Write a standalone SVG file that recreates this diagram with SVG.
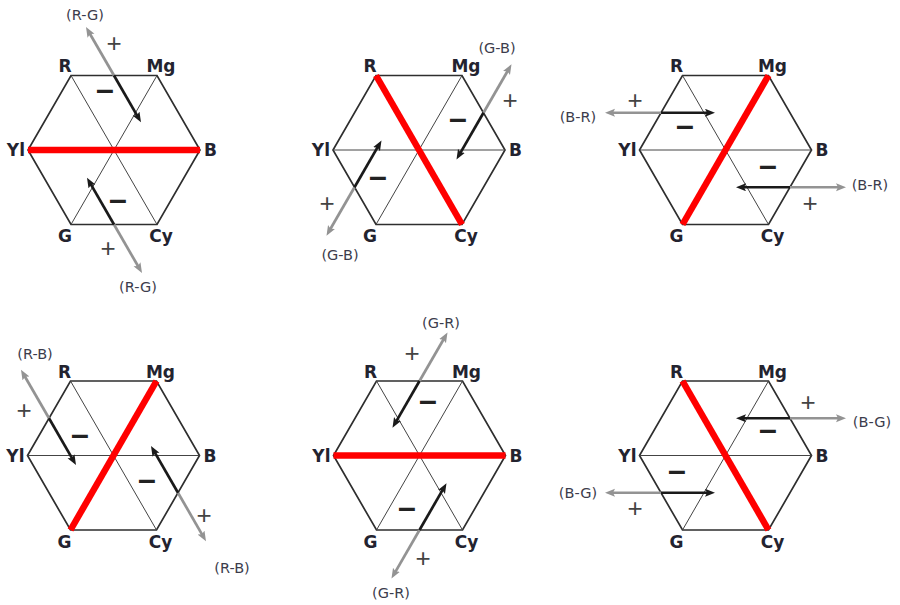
<svg xmlns="http://www.w3.org/2000/svg" xmlns:xlink="http://www.w3.org/1999/xlink" width="900" height="605" viewBox="0 0 900 605">
<style>
.hx{fill:none;stroke:#2e2e2e;stroke-width:1.7;stroke-linejoin:miter}
.dg{stroke:#444;stroke-width:1}
.red{stroke:#ff0000;stroke-width:6.5;fill:none}
.v{font-family:"DejaVu Sans",sans-serif;font-weight:bold;font-size:17px;fill:#23232f}
.vm{text-anchor:middle}
.ve{text-anchor:end}
.s{font-family:"DejaVu Sans",sans-serif;font-size:14.5px;fill:#3c3c4c;text-anchor:middle}
.p{font-family:"Liberation Sans",sans-serif;font-size:26px;fill:#444;text-anchor:middle}
.m{font-family:"Liberation Sans",sans-serif;font-weight:bold;font-size:32px;fill:#222;text-anchor:middle}
.ab{stroke:#1a1a1a;stroke-width:2.7;fill:none;marker-end:url(#hb)}
.ag{stroke:#939393;stroke-width:2.7;fill:none;marker-end:url(#hg)}
</style>
<defs>
<marker id="hb" markerUnits="userSpaceOnUse" markerWidth="12" markerHeight="10" refX="4" refY="4" orient="auto"><path d="M0,0 L10,4 L0,8 L2,4 z" fill="#1a1a1a"/></marker>
<marker id="hg" markerUnits="userSpaceOnUse" markerWidth="12" markerHeight="10" refX="4" refY="4" orient="auto"><path d="M0,0 L10,4 L0,8 L2,4 z" fill="#939393"/></marker>
<g id="hexShape">
<polygon class="hx" points="-43,-74.5 43,-74.5 86,0 43,74.5 -43,74.5 -86,0"/>
<line class="dg" x1="-43" y1="-74.5" x2="43" y2="74.5"/>
<line class="dg" x1="43" y1="-74.5" x2="-43" y2="74.5"/>
<line class="dg" x1="-86" y1="0" x2="86" y2="0"/>
</g>
</defs>
<rect width="900" height="605" fill="#fff"/>

<g id="hex1" transform="translate(114,150)">
<use xlink:href="#hexShape" href="#hexShape"/>
<line class="red" x1="-86" y1="0" x2="86" y2="0"/>
<text class="v vm" x="-49" y="-78">R</text><text class="v vm" x="47" y="-78">Mg</text>
<text class="v ve" x="-89" y="6">Yl</text><text class="v" x="90" y="6">B</text>
<text class="v vm" x="-49" y="92">G</text><text class="v vm" x="47" y="92">Cy</text>
</g>
<g id="hex2" transform="translate(419,150)">
<use xlink:href="#hexShape" href="#hexShape"/>
<line class="red" x1="-43" y1="-74.5" x2="43" y2="74.5"/>
<text class="v vm" x="-49" y="-78">R</text><text class="v vm" x="47" y="-78">Mg</text>
<text class="v ve" x="-89" y="6">Yl</text><text class="v" x="90" y="6">B</text>
<text class="v vm" x="-49" y="92">G</text><text class="v vm" x="47" y="92">Cy</text>
</g>
<g id="hex3" transform="translate(725.5,150)">
<use xlink:href="#hexShape" href="#hexShape"/>
<line class="red" x1="43" y1="-74.5" x2="-43" y2="74.5"/>
<text class="v vm" x="-49" y="-78">R</text><text class="v vm" x="47" y="-78">Mg</text>
<text class="v ve" x="-89" y="6">Yl</text><text class="v" x="90" y="6">B</text>
<text class="v vm" x="-49" y="92">G</text><text class="v vm" x="47" y="92">Cy</text>
</g>
<g id="hex4" transform="translate(113.5,455.5)">
<use xlink:href="#hexShape" href="#hexShape"/>
<line class="red" x1="43" y1="-74.5" x2="-43" y2="74.5"/>
<text class="v vm" x="-49" y="-78">R</text><text class="v vm" x="47" y="-78">Mg</text>
<text class="v ve" x="-89" y="6">Yl</text><text class="v" x="90" y="6">B</text>
<text class="v vm" x="-49" y="92">G</text><text class="v vm" x="47" y="92">Cy</text>
</g>
<g id="hex5" transform="translate(419.5,455.5)">
<use xlink:href="#hexShape" href="#hexShape"/>
<line class="red" x1="-86" y1="0" x2="86" y2="0"/>
<text class="v vm" x="-49" y="-78">R</text><text class="v vm" x="47" y="-78">Mg</text>
<text class="v ve" x="-89" y="6">Yl</text><text class="v" x="90" y="6">B</text>
<text class="v vm" x="-49" y="92">G</text><text class="v vm" x="47" y="92">Cy</text>
</g>
<g id="hex6" transform="translate(725.5,455.5)">
<use xlink:href="#hexShape" href="#hexShape"/>
<line class="red" x1="-43" y1="-74.5" x2="43" y2="74.5"/>
<text class="v vm" x="-49" y="-78">R</text><text class="v vm" x="47" y="-78">Mg</text>
<text class="v ve" x="-89" y="6">Yl</text><text class="v" x="90" y="6">B</text>
<text class="v vm" x="-49" y="92">G</text><text class="v vm" x="47" y="92">Cy</text>
</g>

<g id="connectors">
<path class="ag" d="M114,75.5 L89,32.2"/><path class="ab" d="M114,75.5 L138,117.07"/>
<path class="ag" d="M114,224.5 L139,267.8"/><path class="ab" d="M114,224.5 L90,182.93"/>
<path class="ag" d="M483.5,112.75 L508.5,69.45"/><path class="ab" d="M483.5,112.75 L459.5,154.32"/>
<path class="ag" d="M354.5,187.25 L329.5,230.55"/><path class="ab" d="M354.5,187.25 L378.5,145.68"/>
<path class="ag" d="M661,112.75 L611,112.75"/><path class="ab" d="M661,112.75 L709,112.75"/>
<path class="ag" d="M790,187.25 L840,187.25"/><path class="ab" d="M790,187.25 L742,187.25"/>
<path class="ag" d="M49,418.25 L24,374.95"/><path class="ab" d="M49,418.25 L73,459.82"/>
<path class="ag" d="M178,492.75 L203,536.05"/><path class="ab" d="M178,492.75 L154,451.18"/>
<path class="ag" d="M419.5,381 L444.5,337.7"/><path class="ab" d="M419.5,381 L395.5,422.57"/>
<path class="ag" d="M419.5,530 L394.5,573.3"/><path class="ab" d="M419.5,530 L443.5,488.43"/>
<path class="ag" d="M790,418.25 L840,418.25"/><path class="ab" d="M790,418.25 L742,418.25"/>
<path class="ag" d="M661,492.75 L611,492.75"/><path class="ab" d="M661,492.75 L709,492.75"/>
</g>

<g id="labels">
<text class="s" x="85" y="20">(R-G)</text><text class="s" x="138" y="292">(R-G)</text>
<text class="p" x="114" y="52">+</text><text class="m" x="105" y="100">–</text>
<text class="m" x="118" y="210">–</text><text class="p" x="108" y="257">+</text>

<text class="s" x="497" y="53">(G-B)</text><text class="s" x="340" y="260">(G-B)</text>
<text class="p" x="510" y="109">+</text><text class="m" x="458" y="129">–</text>
<text class="m" x="378" y="187">–</text><text class="p" x="327" y="212">+</text>

<text class="s" x="578" y="122">(B-R)</text><text class="s" x="870" y="190">(B-R)</text>
<text class="p" x="635" y="109">+</text><text class="m" x="685" y="136">–</text>
<text class="m" x="768" y="176">–</text><text class="p" x="810" y="212">+</text>

<text class="s" x="35" y="359">(R-B)</text><text class="s" x="232" y="573">(R-B)</text>
<text class="p" x="24" y="419">+</text><text class="m" x="80" y="445">–</text>
<text class="m" x="147" y="490">–</text><text class="p" x="204" y="524">+</text>

<text class="s" x="441" y="328">(G-R)</text><text class="s" x="391" y="598">(G-R)</text>
<text class="p" x="412" y="362">+</text><text class="m" x="428" y="411">–</text>
<text class="m" x="407" y="518">–</text><text class="p" x="423" y="567">+</text>

<text class="s" x="872" y="427">(B-G)</text><text class="s" x="578" y="498">(B-G)</text>
<text class="p" x="808" y="411">+</text><text class="m" x="768" y="440">–</text>
<text class="m" x="677" y="481">–</text><text class="p" x="635" y="517">+</text>
</g>
</svg>
